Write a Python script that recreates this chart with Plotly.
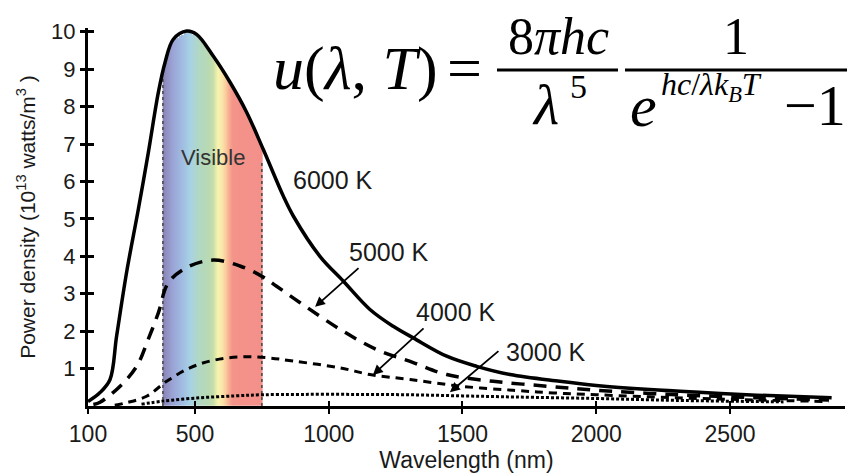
import numpy as np
import plotly.graph_objects as go

# ---- data ----
wl_6000 = [100, 145, 182, 207, 245, 288, 325, 363, 388, 419, 469, 506, 568, 631, 693, 755,
           830, 868, 967, 1054, 1154, 1241, 1316, 1441, 1553, 1678, 1864, 2000, 2200, 2400, 2600, 2880]
u_6000 = [0.12, 0.36, 0.7, 1.87, 3.6, 5.25, 6.75, 8.38, 9.18, 9.8, 10.02, 9.93, 9.35, 8.65, 7.85, 6.86,
          5.61, 5.07, 4.0, 3.34, 2.58, 2.13, 1.82, 1.33, 1.06, 0.84, 0.66, 0.55, 0.44, 0.36, 0.29, 0.22]

wl_5000 = [120, 145, 220, 282, 325, 363, 400, 469, 568, 668, 749, 805, 893, 1042, 1179, 1316,
           1441, 1615, 1815, 2000, 2300, 2600, 2870]
u_5000 = [0.04, 0.1, 0.53, 1.06, 1.78, 2.49, 3.29, 3.7, 3.9, 3.74, 3.47, 3.2, 2.76, 2.05, 1.51, 1.16,
          0.84, 0.66, 0.53, 0.42, 0.3, 0.22, 0.16]

wl_4000 = [200, 245, 319, 394, 481, 568, 668, 768, 868, 1042, 1154, 1304, 1491, 1689, 1839,
           2000, 2300, 2600, 2870]
u_4000 = [0.02, 0.09, 0.26, 0.66, 1.02, 1.22, 1.31, 1.29, 1.2, 1.02, 0.84, 0.71, 0.53, 0.42, 0.35,
          0.3, 0.22, 0.16, 0.12]

wl_3000 = [300, 382, 519, 650, 750, 900, 1100, 1300, 1500, 1700, 2000, 2300, 2700]
u_3000 = [0.05, 0.13, 0.22, 0.27, 0.3, 0.31, 0.31, 0.3, 0.27, 0.24, 0.2, 0.15, 0.11]

x_ticks = [100, 500, 1000, 1500, 2000, 2500]
y_ticks = [1, 2, 3, 4, 5, 6, 7, 8, 9, 10]

visible_edges = [380, 750]
visible_tops = [8.75, 6.5]

vis_stops_wl = [380, 414, 444, 481, 519, 550, 567, 586, 605, 623, 640, 750]
vis_stops_col = ['#8783b3', '#9aa2d4', '#9fb6e0', '#a7d2e4', '#b3d8c0', '#b8d9b2',
                 '#c6deaa', '#f7f3ae', '#fbe0a6', '#f8b394', '#f4938a', '#f4908a']

label_text = ['6000 K', '5000 K', '4000 K', '3000 K']
label_pos = [(1016, 6.04), (1225, 4.11), (1476, 2.51), (1812, 1.44)]
arrow_tail = [(1117, 3.72), (1360, 2.11), (1640, 1.5)]
arrow_head = [(949, 2.65), (1165, 0.83), (1453, 0.37)]

# ---- figure ----
fig = go.Figure()

# rainbow band under the 6000 K curve
gx = np.arange(visible_edges[0], visible_edges[1] + 1, 2.0)
gy = np.arange(0.02, 10.1, 0.04)
top = np.interp(gx, wl_6000, u_6000) - 0.03
Z = np.where(gy[:, None] <= top[None, :], gx[None, :], np.nan)
cs = [[(w - vis_stops_wl[0]) / (vis_stops_wl[-1] - vis_stops_wl[0]), c]
      for w, c in zip(vis_stops_wl, vis_stops_col)]
fig.add_trace(go.Heatmap(x=gx, y=gy, z=Z, colorscale=cs, zmin=vis_stops_wl[0],
                         zmax=vis_stops_wl[-1], showscale=False, hoverinfo='skip'))

for xe, ye in zip(visible_edges, visible_tops):
    fig.add_trace(go.Scatter(x=[xe, xe], y=[0, ye], mode='lines',
                             line=dict(color='#444', width=1.5, dash='dot'),
                             hoverinfo='skip', showlegend=False))

fig.add_trace(go.Scatter(x=wl_3000, y=u_3000, mode='lines', line_shape='spline',
                         line=dict(color='black', width=3, dash='3px,2px'), showlegend=False))
fig.add_trace(go.Scatter(x=wl_4000, y=u_4000, mode='lines', line_shape='spline',
                         line=dict(color='black', width=3, dash='8px,6px'), showlegend=False))
fig.add_trace(go.Scatter(x=wl_5000, y=u_5000, mode='lines', line_shape='spline',
                         line=dict(color='black', width=3.5, dash='13px,9px'), showlegend=False))
fig.add_trace(go.Scatter(x=wl_6000, y=u_6000, mode='lines', line_shape='spline',
                         line=dict(color='black', width=3.5), showlegend=False))

# overlay axes for crossing tick marks
fig.add_trace(go.Scatter(x=[None], y=[None], xaxis='x2', yaxis='y2', showlegend=False))

XR = [100, 2930]
YR = [0, 10.1]
sans = 'Liberation Sans, Arial, sans-serif'
lab_font = dict(family=sans, size=25, color='#1a1a1a')

annotations = []
annotations.append(dict(x=567, y=6.65, text='Visible', showarrow=False, xref='x', yref='y',
                        font=dict(family=sans, size=22, color='#333')))
for t, (lx, ly) in zip(label_text, label_pos):
    annotations.append(dict(x=lx, y=ly, text=t, showarrow=False, xref='x', yref='y', font=lab_font))
for (tx, ty), (hx, hy) in zip(arrow_tail, arrow_head):
    annotations.append(dict(x=hx, y=hy, ax=tx, ay=ty, xref='x', yref='y', axref='x', ayref='y',
                            text='', showarrow=True, arrowhead=2, arrowsize=1.1, arrowwidth=1.8,
                            arrowcolor='black'))

# page body adds an 8px offset; figure is sized to fit the 855x474 window
OFF = 8
FW, FH = 855 - OFF, 474 - OFF
L, T, W, H = 88 - OFF, 28 - OFF, 757, 378

# formula placement helpers (screen pixel -> paper)
def px(xp):
    return (xp - OFF - L) / W
def py(yp):
    return (T + H - (yp - OFF)) / H

serif = 'Liberation Serif, Times New Roman, serif'
def ftxt(text, xp, yp, size, xanchor='center'):
    annotations.append(dict(x=px(xp), y=py(yp), xref='paper', yref='paper', text=text,
                            showarrow=False, xanchor=xanchor, yanchor='middle',
                            font=dict(family=serif, size=size, color='black')))

ftxt('<i>u</i>(<i>λ</i>, <i>T</i>)', 355, 68, 62)
ftxt('=', 464, 68, 62)
ftxt('8<i>πhc</i>', 558, 36, 52)
ftxt('<i>λ</i>', 545, 104, 58)
ftxt('5', 578, 86, 34)
ftxt('1', 736, 36, 52)
ftxt('<i>e</i>', 643, 106, 60)
ftxt('<i>hc</i>/<i>λk</i><sub><i>B</i></sub><i>T</i>', 659, 86, 32, xanchor='left')
ftxt('−1', 815, 105, 58)

shapes = [
    dict(type='line', xref='paper', yref='paper', x0=px(497), x1=px(618), y0=py(70), y1=py(70),
         line=dict(color='black', width=3)),
    dict(type='line', xref='paper', yref='paper', x0=px(625), x1=px(860), y0=py(70), y1=py(70),
         line=dict(color='black', width=3)),
]

fig.update_layout(
    width=FW, height=FH,
    margin=dict(l=L, r=FW - L - W, t=T, b=FH - T - H, autoexpand=False),
    paper_bgcolor='white', plot_bgcolor='white',
    showlegend=False,
    xaxis=dict(range=XR, tickvals=x_ticks, ticktext=[str(v) for v in x_ticks], automargin=False,
               showgrid=False, zeroline=False, showline=True, linecolor='black', linewidth=3,
               ticks='outside', ticklen=5, tickwidth=2, tickcolor='black',
               tickfont=dict(family=sans, size=23, color='#1a1a1a'),
               title=dict(text='Wavelength (nm)', standoff=6,
                          font=dict(family=sans, size=23, color='#1a1a1a'))),
    yaxis=dict(range=YR, tickvals=y_ticks, showgrid=False, zeroline=False, showline=True,
               automargin=False,
               linecolor='black', linewidth=3, ticks='outside', ticklen=5, tickwidth=3,
               tickcolor='black',
               tickfont=dict(family=sans, size=22, color='#1a1a1a'),
               title=dict(text='Power density (10<sup>13</sup> watts/m<sup>3</sup> )', standoff=10,
                          font=dict(family=sans, size=21, color='#1a1a1a'))),
    xaxis2=dict(range=XR, overlaying='x', tickvals=x_ticks[1:], showticklabels=False, ticks='inside',
                ticklen=5, tickwidth=2, tickcolor='black', showgrid=False, zeroline=False,
                showline=False, anchor='y2', automargin=False),
    yaxis2=dict(range=YR, overlaying='y', tickvals=y_ticks, showticklabels=False, ticks='inside',
                ticklen=6, tickwidth=3, tickcolor='black', showgrid=False, zeroline=False,
                showline=False, anchor='x2', automargin=False),
    annotations=annotations,
    shapes=shapes,
)

fig.write_html('out.html')
